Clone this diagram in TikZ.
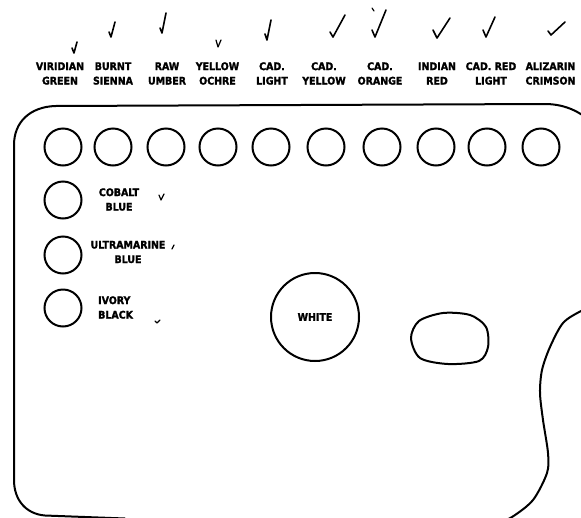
\documentclass[tikz,border=0pt]{standalone}
\usepackage{fontspec}
\newfontfamily\lab{DejaVu Sans Condensed}[BoldFont={DejaVu Sans Condensed Bold},BoldFeatures={FakeBold=1.6}]
\begin{document}
\begin{tikzpicture}[x=1pt,y=-1pt,
  edge/.style={line width=2pt, line cap=round, line join=round},
  well/.style={circle, draw, line width=2pt, minimum size=37pt, inner sep=0pt},
  lbl/.style={font=\lab\bfseries\fontsize{10.5}{14.5}\selectfont, align=center, inner sep=0pt},
  tick/.style={line width=1.6pt, line cap=round, line join=round},
  smalltick/.style={line width=1.2pt, line cap=round, line join=round}]
\useasboundingbox (0,0) rectangle (581,517);
\clip (0,0) rectangle (581,517);
\fill[white] (0,0) rectangle (581,517);

% palette outline
\draw[edge] (125,518.5) -- (45,515.5) .. controls (26,514) and (14,500) .. (14,480)
  -- (14,145) .. controls (14,122) and (30,107) .. (55,106)
  -- (545,104) .. controls (565,104) and (585,112) .. (600,132) -- (610,300);
\draw[edge] plot[smooth] coordinates {(598,304) (581,311) (563,323) (550,347) (542,370)
  (540,393) (543,420) (548,453) (547,473) (533,500) (512,517) (495,524)};

% top row of wells
\foreach \n/\x in {1/63,2/113,3/166,4/218,5/271,6/326,7/382,8/436,9/487,10/541}
  \node[well] (w\n) at (\x,147) {};

% left column of wells
\node[well] (cobalt) at (63,200) {};
\node[well] (ultra) at (63,255) {};
\node[well] (ivory) at (63,308) {};

% white well and oval
\node[circle, draw, line width=2pt, minimum size=88pt, inner sep=0pt,
      font=\lab\bfseries\fontsize{10.5}{14.5}\selectfont] (white) at (315,317) {WHITE};
\draw[edge] plot[smooth cycle] coordinates {(411,338) (419,321) (443,313) (470,315)
  (486,327) (488,347) (479,361) (448,364) (420,358)};

% top labels
\node[lbl] (l1) at (60,73.5) {VIRIDIAN\\GREEN};
\node[lbl] (l2) at (113,73.5) {BURNT\\SIENNA};
\node[lbl] (l3) at (167,73.5) {RAW\\UMBER};
\node[lbl] (l4) at (217.5,73.5) {YELLOW\\OCHRE};
\node[lbl] (l5) at (272,73.5) {CAD.\\LIGHT};
\node[lbl] (l6) at (324,73.5) {CAD.\\YELLOW};
\node[lbl] (l7) at (380,73.5) {CAD.\\ORANGE};
\node[lbl] (l8) at (437,73.5) {INDIAN\\RED};
\node[lbl] (l9) at (491,73.5) {CAD. RED\\LIGHT};
\node[lbl] (l10) at (550.5,73.5) {ALIZARIN\\CRIMSON};

% left labels
\node[lbl] (lc) at (119,199.5) {COBALT\\BLUE};
\node[lbl] (lu) at (128,252) {ULTRAMARINE\\BLUE};
\node[lbl, align=left, anchor=west] (li) at (98,307.5) {IVORY\\BLACK};

% check marks
\draw[tick] (72,48) -- (74,53) -- (77,42);
\draw[tick] (109,32) -- (111,37) -- (115,22);
\draw[tick] (160,28) -- (162,33) -- (166,13);
\draw[smalltick] (216,40) -- (218,47) -- (221,40);
\draw[tick] (265,34) -- (267,40) -- (271,20);
\draw[tick] (330,32) -- (333,37) -- (345,15);
\draw[tick] (372,30) -- (375,37) -- (386,10);
\draw[smalltick] (372,8) -- (374,11);
\draw[tick] (433,30) -- (437,38) -- (450,18);
\draw[tick] (483,30) -- (486,37) -- (495,17);
\draw[tick] (548,31) -- (551,35) -- (565,22);

% small marks
\draw[smalltick] (159,195) -- (161,200) -- (164,194);
\draw[smalltick] (172,249) -- (174,245);
\draw[smalltick] (155,321) -- (157,323) -- (160,320);
\end{tikzpicture}
\end{document}
